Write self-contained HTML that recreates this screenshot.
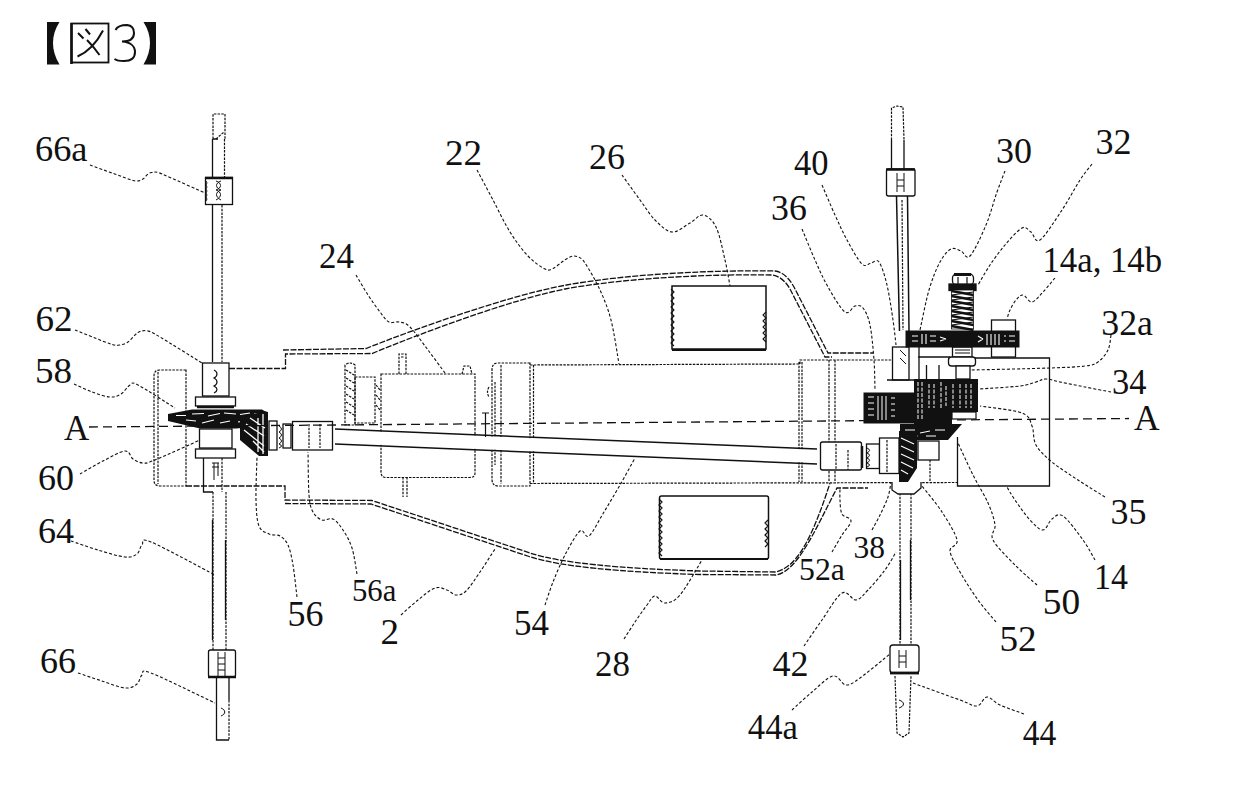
<!DOCTYPE html>
<html><head><meta charset="utf-8"><style>
html,body{margin:0;padding:0;background:#fff;}
body{width:1239px;height:804px;overflow:hidden;}
svg{display:block;}
text{font-family:"Liberation Serif",serif;fill:#111;}
.ld{fill:none;stroke:#111;stroke-width:1.1;stroke-dasharray:3 2;}
.l{fill:none;stroke:#111;stroke-width:1.3;}
.o{fill:none;stroke:#111;stroke-width:1.3;stroke-dasharray:6 1.5;}
.d{fill:none;stroke:#111;stroke-width:1.2;stroke-dasharray:2.5 1.2;}
.k{fill:#111;stroke:none;}
.w{fill:#fff;stroke:#111;stroke-width:1.2;}
</style></head><body>
<svg width="1239" height="804" viewBox="0 0 1239 804">
<!-- title -->
<g id="title">
<path class="k" d="M47,22 L59.5,22 C55,29 53,36 53,43 C53,50 55,57 59.5,64.5 L47,64.5 Z"/>
<rect x="71.5" y="23.5" width="37" height="39" fill="none" stroke="#111" stroke-width="1.8"/>
<path d="M71.5,23 L71.5,64" stroke="#111" stroke-width="2.6"/>
<path d="M78,33 L83.5,38.5 M85.5,29 L90,34.5 M103,30.5 C97,42 88,52 77.5,56.5 M87,40 C92,45 96,50 99.5,55" stroke="#111" stroke-width="2" fill="none"/>
<path d="M115.5,30 C117.5,26 122.5,25 127,25 C132,25.5 134,29 134,33 C134,38.5 130,41.5 122,41.5 C130,42 135,46 135,52 C135,58.5 130,61 124,61 C119,61 116,60 114.5,59" stroke="#111" stroke-width="2" fill="none"/>
<path class="k" d="M156,22 L143.5,22 C148,29 150,36 150,43 C150,50 148,57 143.5,64.5 L156,64.5 Z"/>
</g>

<!-- body outline (double) -->
<g class="o">
<path d="M283,350 L366,348.5 C420,327 510,295.5 564,285.5 C630,273.2 720,270 775,271 C784,272 790,280 794,287 L828,353 L873,353"/>
<path d="M229,368.5 L285.5,368.5 L285.5,354 L372,353.5 C424,332 512,299.5 565,289 C630,277 720,274 772,275 C780,276 786,282 790,289 L825,357 L832,357"/>
<path d="M186,486 L285,486 L285,500 L372,500.5 L530,553 C560,563 620,568.5 700,571 L775,572 C795,568 810,545 830,483"/>
<path d="M285,503.5 L371,504 L529,556.5 C559,566.5 619,572 700,574.5 L776,575 C798,571 815,530 837,488 L868,488"/>
</g>

<!-- left frame -->
<path class="d" d="M186,370 L160,370 Q154,370 154,376 L154,480 Q154,486 160,486 L186,486 Z M158,372 L158,484"/>

<!-- left axle -->
<g class="l">
<path class="d" d="M213,139 L213,114 L225,114 L225,139 M216,139 L224,132"/>
<path d="M212.5,139 L212.5,177 M213,139 L218,139" />
<path class="d" d="M224.5,139 L224.5,177"/>
<rect x="205.5" y="177.5" width="27" height="27" fill="#fff"/>
<path d="M206,181 Q208,183 206,185 Q208,187 206,189 Q208,191 206,193 Q208,195 206,197 Q208,199 206,201" stroke-width="1"/>
<path d="M216,181 C222,183 222,188 216,190 C222,192 222,197 216,200 M221,181 C215,183 215,188 221,190 C215,192 215,197 221,200" stroke-width="1"/>
<line x1="205" y1="178" x2="233" y2="178" stroke-width="2.5"/>
<path class="d" d="M222,205 L222,362"/>
<path d="M212.5,205 L212.5,362"/>
<rect x="202.5" y="363" width="26.5" height="33" fill="#fff"/>
<path d="M214,370 C218,372 218,376 214,378 C218,380 218,384 214,386 C218,388 218,391 214,393" stroke-width="1.2"/>
<rect x="195.5" y="397" width="40" height="9" fill="#fff"/>
<path d="M197,407 L234,407" stroke-width="2.5"/>
<rect x="199.5" y="429" width="32.5" height="19" fill="#fff"/>
<rect x="195.5" y="449" width="40" height="9" fill="#fff"/>
<path d="M203.5,458 L203.5,492 L213,492"/>
<path d="M212,463 L219,463 M212,467 L219,467 M214,463 L214,480 M218,463 L218,476" stroke-width="1"/>
<path class="d" d="M213,492 L213,650 M226,492 L226,650 M222,458 L222,492"/>
<path d="M212.5,520 L212.5,640 M225.5,540 L225.5,620"/>
<rect x="208.5" y="650" width="27" height="27" rx="2" fill="#fff"/>
<path d="M218,652 L218,676 M225,652 L225,676 M218,658 L225,658 M218,664 L225,664 M218,670 L225,670" stroke-width="1"/>
<line x1="208" y1="677" x2="236" y2="677" stroke-width="2.5"/>
<path d="M216.5,677 L216.5,740 L229,740 M229,677 L229,700"/>
<path class="d" d="M229,700 L229,740"/>
<path d="M221,708 C226,710 226,714 221,716" stroke-width="1"/>
</g>
<!-- gear 58 -->
<path class="k" d="M168,414 L192,409.5 L262,409.5 L266,412 L266,426 L236,428.5 L200,428.5 L168,421 Z"/>
<path d="M176,415.5 L186,415.5 M192,414 L204,413.5 M208,416 L220,413.5 M224,413 L236,414 M240,414.5 L250,413 M254,414 L262,413.5 M186,420 L196,421 M202,423 L214,420 M220,423 L230,421 M238,422 L250,420" stroke="#fff" stroke-width="1.2" fill="none"/>
<!-- pinion 56 -->
<path class="k" d="M240,418 L264,411 L268,412 L268,456 L259,456 L240,440 Z"/>
<path d="M246,424 L264,436 M244,430 L264,446 M250,418 L265,428 M253,441 L264,452 M258,418 L258,452 M263,414 L263,454" stroke="#fff" stroke-width="1.3" fill="none"/>
<!-- left coupling 56a -->
<g class="l">
<rect x="269" y="421" width="8" height="29" fill="#fff"/>
<path d="M279,426 Q284,429 279,432 Q284,435 279,438 Q284,441 279,444 Q284,446 279,448" stroke-width="1"/>
<rect x="283" y="424" width="8" height="24" fill="#fff"/>
<rect x="292.5" y="421.5" width="40" height="28.5" fill="#fff"/>
<path class="d" d="M309,424 L309,448 M320,424 L320,448"/>
</g>

<!-- motor 24 -->
<g class="d">
<path d="M381,374 L475,374 L475,473 Q475,477.5 470,477.5 L386,477.5 Q381,477.5 381,472 Z"/>
<path d="M399,374 L399,354 L406,354 L406,374 M401,357 L404,357 M462,374 L464,366 L470,366 L472,374 M403,477 L403,497 M407,477 L407,497"/>
<path d="M345,365 L345,425 L355,425 L355,365 Q350,361 345,365 Z"/>
<path d="M346,370 L354,375 M346,378 L354,383 M346,386 L354,391 M346,394 L354,399 M346,402 L354,407 M346,410 L354,415" />
<rect x="355" y="377" width="20" height="46"/>
<path d="M376,385 L380,390 M376,395 L380,400 M376,405 L380,410"/>
</g>

<!-- main motor 22 -->
<g class="d">
<path d="M530,363 L498,363 Q492,363 492,370 L492,479 Q492,486 498,486 L530,486 Z M501,365 L501,484 M495,382 L495,465 M489,387 Q486,392 489,397"/>
<path d="M530,365 L800,364 L800,360 L892,360 M530,483.5 L957,482.5 M533.5,365 L533.5,484 M799,362 L799,482 M802,362 L802,482 M829,360 L829,482 M835,360 L835,482"/>
</g>

<!-- boxes 26 / 28 -->
<rect class="l" x="672" y="286" width="94" height="63" fill="none" style="stroke-width:1.5"/>
<path class="l" d="M672,350 L766,350" style="stroke-width:2"/>
<path class="l" style="stroke-width:1.1" d="M671,289 L674,292 L671,295 L674,298 L671,301 L674,304 L671,307 L674,310 L671,313 L674,316 L671,319 L674,322 L671,325 L674,328 L671,331 L674,334 L671,337 L674,340 L671,343 L674,346 M766,312 L763,315 L766,318 L763,321 L766,324 L763,327 L766,330 L763,333 L766,336 L763,339 L766,342"/>
<rect class="l" x="659.5" y="496" width="109" height="63" rx="2" fill="none" style="stroke-width:1.5"/>
<path class="l" d="M660,559 L768,559" style="stroke-width:2"/>
<path class="l" style="stroke-width:1.2" d="M659,499 L662,502 L659,505 L662,508 L659,511 L662,514 L659,517 L662,520 L659,523 L662,526 L659,529 L662,532 L659,535 L662,538 L659,541 L662,544 L659,547 L662,550 L659,553 L662,556 M768,520 L765,523 L768,526 L765,529 L768,532 L765,535 L768,538 L765,541 L768,544 L765,547"/>

<!-- shaft 54 -->
<path d="M336,430 L817,450 L817,463 L336,443 Z" fill="#fff" stroke="none"/>
<path class="l" d="M335,429 L817,449 M335,444 L817,464" style="stroke-width:1.5"/>
<path class="l" d="M482,413 L489,413 M485.5,413 L485.5,437" style="stroke-width:1.2"/>

<!-- axis A -->
<path d="M89,427 L1129,418.5" stroke="#111" stroke-width="1.3" stroke-dasharray="9 5" fill="none"/>

<!-- coupling 52a -->
<g class="l">
<rect x="820.5" y="442" width="41" height="28" rx="2" fill="#fff"/>
<path class="d" d="M836,444 L836,470 M848,450 L848,470"/>
<path d="M862,446 L862,468" stroke-width="2.5"/>
<rect x="866.5" y="444" width="13" height="24.5" fill="#fff"/>
<path d="M867,448 Q872,450 867,453 Q872,455 867,458 Q872,460 867,463 Q872,465 867,467" stroke-width="1"/>
<rect x="879.5" y="438" width="19.5" height="35.5" fill="#fff"/>
<rect x="918" y="441" width="21" height="19" fill="#fff"/>
<path class="d" d="M887,440 L887,472 M930,460 L930,482"/>
</g>

<!-- right axle -->
<g class="l">
<path class="d" d="M891.5,140 L891.5,108 L897,106 L903,107 L904,140"/>
<path d="M891.5,140 L891.5,169 M904,140 L904,169"/>
<rect x="886.5" y="169" width="28.5" height="27" rx="2" fill="#fff"/>
<line x1="886" y1="169.5" x2="915" y2="169.5" stroke-width="2.5"/>
<path d="M897,173 L897,192 M904,173 L904,192 M897,180 L904,180 M897,186 L904,186" stroke-width="1"/>
<path d="M896.5,196 L899.5,331 M907.5,196 L909,331" style="stroke-width:1.5"/>
<path class="d" d="M902,200 L903,330"/>
<rect x="892.5" y="347" width="16.5" height="33" fill="#fff"/>
<path d="M900,350 L906,356 M900,358 L906,364" stroke-width="1"/>
<path d="M919,347 L919,380 M926.5,365 L926.5,380 M939,365 L939,380 M918,357 L950,357 M887,380 L914,380"/>
<path class="d" d="M900,482 L900,645 M911,482 L911,645"/>
<path d="M900.5,560 L900.5,640 M910.5,540 L910.5,600"/>
<path d="M892,482 L892,490 L898,494 L914,494 L921,488 L921,482" fill="#fff"/>
<rect x="890" y="645" width="29" height="28" rx="3" fill="#fff"/>
<path d="M899,650 L899,668 M906,650 L906,668 M899,656 L906,656 M899,662 L906,662" stroke-width="1"/>
<line x1="890" y1="673" x2="919" y2="673" stroke-width="2.8"/>
<path class="d" d="M895,676 L897,733 L903,737 L909,733 L911,676"/>
<path d="M899,700 C905,702 905,706 899,708" stroke-width="1"/>
</g>

<!-- right gear train -->
<g class="l">
<rect x="952.5" y="274" width="21" height="11" rx="4" fill="#fff"/>
<path d="M954,274.5 L971,274.5" stroke-width="3"/>
<path d="M958,277 L958,284 M967,277 L967,284" stroke-width="1.2"/>
<rect x="949" y="284" width="27" height="6.5" fill="#111"/>
<rect x="951.5" y="290" width="22" height="39" fill="#fff" stroke-width="0.8"/>
<path d="M951.5,291.0 L973.5,295.0 M951.5,296.0 L973.5,300.0 M951.5,301.0 L973.5,305.0 M951.5,306.0 L973.5,310.0 M951.5,311.0 L973.5,315.0 M951.5,316.0 L973.5,320.0 M951.5,321.0 L973.5,325.0 M951.5,326.0 L973.5,330.0 " stroke-width="2.6"/>
<path d="M951.5,295.0 L973.5,292.0 M951.5,300.0 L973.5,297.0 M951.5,305.0 L973.5,302.0 M951.5,310.0 L973.5,307.0 M951.5,315.0 L973.5,312.0 M951.5,320.0 L973.5,317.0 M951.5,325.0 L973.5,322.0 " stroke-width="1.2"/>
<rect x="991.5" y="320" width="24" height="37" fill="#fff"/>
<rect x="952.5" y="347" width="19.5" height="10" fill="#fff"/>
<path d="M955,350 L970,350 M955,353 L970,353" stroke-width="1"/>
<rect x="948.5" y="357" width="27" height="9" rx="3" fill="#fff"/>
<rect x="956" y="366" width="14" height="13" fill="#fff"/>
<path d="M975,358 L1049.5,358 L1049.5,486 L957.5,486 L957.5,437"/>
</g>
<!-- gear 30 -->
<rect class="k" x="905.5" y="330.5" width="114" height="17"/>
<path d="M912,336 L918,336 M912,341 L918,341 M922,334 L922,344 M926,334 L926,344 M930,336 L936,336 M930,341 L936,341 M940,337 L946,339 M940,341 L946,339 M978,336 L983,339 M978,342 L983,339 M987,334 L987,345 M991,334 L991,345 M995,334 L995,345 M999,334 L999,345 M1004,336 L1006,336 M1004,341 L1006,341 M1009,336 L1015,336 M1009,341 L1015,341" stroke="#fff" stroke-width="1.1" fill="none"/>
<!-- gear stack 34 -->
<rect class="k" x="914" y="379" width="64" height="33"/>
<rect class="k" x="914" y="412" width="38" height="13"/>
<rect class="w" x="952" y="412" width="24" height="7"/>
<path d="M918,382 L918,420 M922,382 L922,420 M929,384 L929,408 M934,384 L934,408 M941,382 L941,408 M946,386 L946,406 M953,384 L953,408 M960,384 L960,408 M966,384 L966,408 M971,384 L971,408" stroke="#fff" stroke-width="1" fill="none" stroke-dasharray="4 1.5"/>
<!-- gear 36 -->
<rect class="k" x="863.5" y="392.5" width="51" height="31"/>
<path d="M868,397 L874,397 M868,403 L874,403 M868,409 L874,409 M868,415 L874,415 M878,396 L878,420 M882,396 L882,420 M886,396 L886,420 M891,398 L895,398 M891,404 L895,404 M891,410 L895,410 M891,416 L895,416" stroke="#fff" stroke-width="1" fill="none"/>
<!-- bevel 50 -->
<path class="k" d="M900,424 L962,424 L948,440 L900,440 Z"/>
<path d="M905,430 L915,430 M920,433 L930,431 M935,430 L945,430 M910,436 L918,436 M926,436 L936,436" stroke="#fff" stroke-width="1" fill="none"/>
<!-- worm 38 -->
<path class="k" d="M899,431 L917.5,431 L917,468 L908,482 L899,482 Z"/>
<path d="M901,438 L914,444 M901,446 L914,452 M901,454 L914,460 M901,462 L913,468 M901,470 L908,474" stroke="#fff" stroke-width="1.2" fill="none"/>

<path class="ld" d="M90.0,165.0 C93.7,166.3 105.3,170.6 112.0,173.0 C118.7,175.4 125.8,178.2 130.0,179.5 C134.2,180.8 134.8,181.1 137.0,181.0 C139.2,180.9 141.2,180.2 143.0,179.0 C144.8,177.8 146.5,175.1 148.0,174.0 C149.5,172.9 150.3,172.8 152.0,172.5 C153.7,172.2 155.0,171.7 158.0,172.5 C161.0,173.3 162.3,174.2 170.0,177.5 C177.7,180.8 198.3,190.0 204.0,192.5"/>
<path class="ld" d="M75.0,330.0 C78.3,331.3 88.8,335.6 95.0,338.0 C101.2,340.4 107.8,343.3 112.0,344.5 C116.2,345.7 117.3,345.4 120.0,345.0 C122.7,344.6 125.5,343.7 128.0,342.0 C130.5,340.3 133.0,336.8 135.0,335.0 C137.0,333.2 137.8,332.2 140.0,331.5 C142.2,330.8 144.7,330.1 148.0,331.0 C151.3,331.9 151.0,331.7 160.0,337.0 C169.0,342.3 195.0,358.7 202.0,363.0"/>
<path class="ld" d="M74.0,384.0 C77.0,385.3 86.0,389.8 92.0,392.0 C98.0,394.2 105.2,396.7 110.0,397.0 C114.8,397.3 117.7,396.0 121.0,394.0 C124.3,392.0 127.2,386.5 130.0,385.0 C132.8,383.5 130.5,381.2 138.0,385.0 C145.5,388.8 168.8,404.2 175.0,408.0"/>
<path class="ld" d="M80.0,474.0 C83.8,471.8 95.5,464.8 103.0,461.0 C110.5,457.2 120.0,451.3 125.0,451.0 C130.0,450.7 130.0,457.0 133.0,459.0 C136.0,461.0 139.3,462.8 143.0,463.0 C146.7,463.2 145.5,463.8 155.0,460.0 C164.5,456.2 192.5,443.3 200.0,440.0"/>
<path class="ld" d="M71.0,541.0 C75.5,542.5 89.0,547.3 98.0,550.0 C107.0,552.7 118.5,556.3 125.0,557.0 C131.5,557.7 134.2,556.0 137.0,554.0 C139.8,552.0 139.7,547.0 142.0,545.0 C144.3,543.0 138.8,537.0 151.0,542.0 C163.2,547.0 204.3,569.5 215.0,575.0"/>
<path class="ld" d="M78.0,673.0 C82.0,674.3 94.2,678.5 102.0,681.0 C109.8,683.5 119.2,687.5 125.0,688.0 C130.8,688.5 134.2,686.2 137.0,684.0 C139.8,681.8 139.7,676.8 142.0,675.0 C144.3,673.2 138.8,668.3 151.0,673.0 C163.2,677.7 204.3,698.0 215.0,703.0"/>
<path class="ld" d="M297.0,597.0 C296.3,591.7 294.5,573.7 293.0,565.0 C291.5,556.3 290.2,549.8 288.0,545.0 C285.8,540.2 283.2,537.8 280.0,536.0 C276.8,534.2 272.5,535.7 269.0,534.0 C265.5,532.3 261.2,531.7 259.0,526.0 C256.8,520.3 256.3,511.5 256.0,500.0 C255.7,488.5 256.8,464.2 257.0,457.0"/>
<path class="ld" d="M357.0,574.0 C356.2,569.7 354.3,555.3 352.0,548.0 C349.7,540.7 346.2,534.8 343.0,530.0 C339.8,525.2 336.5,520.7 333.0,519.0 C329.5,517.3 325.3,521.2 322.0,520.0 C318.7,518.8 315.2,516.2 313.0,512.0 C310.8,507.8 309.8,505.0 309.0,495.0 C308.2,485.0 308.2,459.2 308.0,452.0"/>
<path class="ld" d="M401.0,615.0 C403.8,612.5 412.3,604.5 418.0,600.0 C423.7,595.5 430.2,589.7 435.0,588.0 C439.8,586.3 443.5,588.8 447.0,590.0 C450.5,591.2 452.8,594.8 456.0,595.0 C459.2,595.2 462.0,594.8 466.0,591.0 C470.0,587.2 475.2,579.0 480.0,572.0 C484.8,565.0 492.5,552.8 495.0,549.0"/>
<path class="ld" d="M545.0,605.0 C546.3,601.2 549.7,590.3 553.0,582.0 C556.3,573.7 560.5,563.5 565.0,555.0 C569.5,546.5 576.0,534.2 580.0,531.0 C584.0,527.8 585.0,539.2 589.0,536.0 C593.0,532.8 598.8,520.5 604.0,512.0 C609.2,503.5 614.8,494.0 620.0,485.0 C625.2,476.0 632.5,462.5 635.0,458.0"/>
<path class="ld" d="M356.0,275.0 C358.0,278.3 364.0,288.8 368.0,295.0 C372.0,301.2 376.5,307.5 380.0,312.0 C383.5,316.5 385.8,320.3 389.0,322.0 C392.2,323.7 395.5,321.2 399.0,322.0 C402.5,322.8 405.2,322.3 410.0,327.0 C414.8,331.7 422.2,342.3 428.0,350.0 C433.8,357.7 442.2,369.2 445.0,373.0"/>
<path class="ld" d="M477.0,170.0 C479.7,175.0 487.5,189.7 493.0,200.0 C498.5,210.3 504.2,222.7 510.0,232.0 C515.8,241.3 522.2,249.8 528.0,256.0 C533.8,262.2 540.8,266.9 545.0,269.0 C549.2,271.1 550.2,269.7 553.0,268.5 C555.8,267.3 559.2,263.9 562.0,262.0 C564.8,260.1 567.5,257.9 570.0,257.0 C572.5,256.1 574.5,255.5 577.0,256.5 C579.5,257.5 581.2,257.4 585.0,263.0 C588.8,268.6 595.7,280.5 600.0,290.0 C604.3,299.5 607.8,307.7 611.0,320.0 C614.2,332.3 617.7,356.7 619.0,364.0"/>
<path class="ld" d="M622.0,175.0 C625.0,179.2 634.5,192.5 640.0,200.0 C645.5,207.5 649.7,214.7 655.0,220.0 C660.3,225.3 666.2,231.5 672.0,232.0 C677.8,232.5 684.8,225.8 690.0,223.0 C695.2,220.2 698.7,214.3 703.0,215.0 C707.3,215.7 712.3,219.5 716.0,227.0 C719.7,234.5 722.7,250.2 725.0,260.0 C727.3,269.8 729.2,281.7 730.0,286.0"/>
<path class="ld" d="M624.0,639.0 C625.8,636.2 631.2,627.7 635.0,622.0 C638.8,616.3 643.7,609.3 647.0,605.0 C650.3,600.7 652.0,596.3 655.0,596.0 C658.0,595.7 660.8,603.2 665.0,603.0 C669.2,602.8 673.8,602.2 680.0,595.0 C686.2,587.8 698.3,565.8 702.0,560.0"/>
<path class="ld" d="M822.0,185.0 C824.2,190.0 830.8,205.8 835.0,215.0 C839.2,224.2 842.5,231.8 847.0,240.0 C851.5,248.2 858.0,260.2 862.0,264.0 C866.0,267.8 868.2,263.3 871.0,263.0 C873.8,262.7 876.3,258.3 879.0,262.0 C881.7,265.7 884.7,275.3 887.0,285.0 C889.3,294.7 891.5,310.0 893.0,320.0 C894.5,330.0 895.5,340.8 896.0,345.0"/>
<path class="ld" d="M802.0,229.0 C804.2,234.2 810.7,250.3 815.0,260.0 C819.3,269.7 823.0,278.3 828.0,287.0 C833.0,295.7 840.5,308.8 845.0,312.0 C849.5,315.2 852.0,306.7 855.0,306.0 C858.0,305.3 860.5,304.8 863.0,308.0 C865.5,311.2 868.2,316.3 870.0,325.0 C871.8,333.7 873.2,349.2 874.0,360.0 C874.8,370.8 874.8,385.0 875.0,390.0"/>
<path class="ld" d="M1005.0,171.0 C1003.7,174.5 1000.2,183.0 997.0,192.0 C993.8,201.0 990.5,214.3 986.0,225.0 C981.5,235.7 974.2,251.7 970.0,256.0 C965.8,260.3 964.2,252.2 961.0,251.0 C957.8,249.8 954.5,247.2 951.0,249.0 C947.5,250.8 943.7,255.2 940.0,262.0 C936.3,268.8 932.3,278.7 929.0,290.0 C925.7,301.3 921.5,323.3 920.0,330.0"/>
<path class="ld" d="M1092.0,164.0 C1090.0,166.7 1085.0,172.3 1080.0,180.0 C1075.0,187.7 1068.7,200.0 1062.0,210.0 C1055.3,220.0 1045.2,236.3 1040.0,240.0 C1034.8,243.7 1034.0,234.0 1031.0,232.0 C1028.0,230.0 1026.3,225.8 1022.0,228.0 C1017.7,230.2 1010.3,238.8 1005.0,245.0 C999.7,251.2 994.5,258.3 990.0,265.0 C985.5,271.7 980.0,281.7 978.0,285.0"/>
<path class="ld" d="M1055.0,278.0 C1053.0,280.3 1046.8,288.0 1043.0,292.0 C1039.2,296.0 1035.3,301.5 1032.0,302.0 C1028.7,302.5 1025.7,295.3 1023.0,295.0 C1020.3,294.7 1018.2,297.5 1016.0,300.0 C1013.8,302.5 1011.5,306.8 1010.0,310.0 C1008.5,313.2 1007.5,317.5 1007.0,319.0"/>
<path class="ld" d="M1111.0,335.0 C1110.5,337.5 1110.2,345.5 1108.0,350.0 C1105.8,354.5 1101.8,359.3 1098.0,362.0 C1094.2,364.7 1093.0,365.0 1085.0,366.0 C1077.0,367.0 1069.0,367.3 1050.0,368.0 C1031.0,368.7 984.2,369.7 971.0,370.0"/>
<path class="ld" d="M1111.0,392.0 C1106.7,391.2 1093.5,388.7 1085.0,387.0 C1076.5,385.3 1066.5,383.3 1060.0,382.0 C1053.5,380.7 1050.0,379.0 1046.0,379.0 C1042.0,379.0 1040.3,380.8 1036.0,382.0 C1031.7,383.2 1029.5,384.8 1020.0,386.0 C1010.5,387.2 985.8,388.5 979.0,389.0"/>
<path class="ld" d="M1105.0,497.0 C1100.5,494.2 1086.8,485.8 1078.0,480.0 C1069.2,474.2 1059.0,467.8 1052.0,462.0 C1045.0,456.2 1039.3,451.0 1036.0,445.0 C1032.7,439.0 1034.3,431.3 1032.0,426.0 C1029.7,420.7 1030.7,416.3 1022.0,413.0 C1013.3,409.7 987.0,407.2 980.0,406.0"/>
<path class="ld" d="M1095.0,560.0 C1093.0,556.7 1088.3,547.3 1083.0,540.0 C1077.7,532.7 1068.2,519.5 1063.0,516.0 C1057.8,512.5 1055.3,516.7 1052.0,519.0 C1048.7,521.3 1046.7,529.8 1043.0,530.0 C1039.3,530.2 1034.7,525.0 1030.0,520.0 C1025.3,515.0 1018.8,505.5 1015.0,500.0 C1011.2,494.5 1008.3,489.2 1007.0,487.0"/>
<path class="ld" d="M1037.0,585.0 C1033.3,581.7 1022.3,572.5 1015.0,565.0 C1007.7,557.5 996.3,546.7 993.0,540.0 C989.7,533.3 995.8,531.2 995.0,525.0 C994.2,518.8 991.7,511.3 988.0,503.0 C984.3,494.7 978.0,485.0 973.0,475.0 C968.0,465.0 960.5,448.3 958.0,443.0"/>
<path class="ld" d="M996.0,622.0 C993.0,618.3 984.0,608.3 978.0,600.0 C972.0,591.7 964.7,580.2 960.0,572.0 C955.3,563.8 950.5,556.3 950.0,551.0 C949.5,545.7 958.3,546.5 957.0,540.0 C955.7,533.5 947.8,521.0 942.0,512.0 C936.2,503.0 925.3,490.3 922.0,486.0"/>
<path class="ld" d="M872.0,530.0 C873.3,527.5 877.3,520.5 880.0,515.0 C882.7,509.5 886.2,502.5 888.0,497.0 C889.8,491.5 890.5,484.5 891.0,482.0"/>
<path class="ld" d="M832.0,552.0 C833.7,549.2 838.8,540.2 842.0,535.0 C845.2,529.8 851.0,524.5 851.0,521.0 C851.0,517.5 843.8,517.5 842.0,514.0 C840.2,510.5 840.3,504.5 840.0,500.0 C839.7,495.5 840.0,489.2 840.0,487.0"/>
<path class="ld" d="M804.0,646.0 C807.0,641.7 815.7,628.8 822.0,620.0 C828.3,611.2 836.3,596.3 842.0,593.0 C847.7,589.7 851.7,600.5 856.0,600.0 C860.3,599.5 863.2,595.0 868.0,590.0 C872.8,585.0 880.3,576.3 885.0,570.0 C889.7,563.7 894.2,555.0 896.0,552.0"/>
<path class="ld" d="M792.0,710.0 C795.3,707.0 805.2,697.7 812.0,692.0 C818.8,686.3 827.3,677.2 833.0,676.0 C838.7,674.8 841.5,684.7 846.0,685.0 C850.5,685.3 852.7,683.2 860.0,678.0 C867.3,672.8 885.0,658.0 890.0,654.0"/>
<path class="ld" d="M1024.0,714.0 C1020.0,712.5 1006.2,707.8 1000.0,705.0 C993.8,702.2 990.8,696.8 987.0,697.0 C983.2,697.2 981.5,705.5 977.0,706.0 C972.5,706.5 970.7,703.8 960.0,700.0 C949.3,696.2 920.8,685.8 913.0,683.0"/>
<text transform="translate(35.0,161.0) scale(1.010,1)" font-size="36">66a</text>
<text transform="translate(35.5,331.0) scale(1.030,1)" font-size="36">62</text>
<text transform="translate(35.0,383.0) scale(1.030,1)" font-size="36">58</text>
<text transform="translate(64.0,440.0) scale(0.970,1)" font-size="36">A</text>
<text transform="translate(38.0,490.0) scale(1.000,1)" font-size="36">60</text>
<text transform="translate(38.0,542.5) scale(1.001,1)" font-size="36">64</text>
<text transform="translate(40.0,673.0) scale(1.000,1)" font-size="36">66</text>
<text transform="translate(287.5,626.0) scale(1.000,1)" font-size="36">56</text>
<text transform="translate(352.0,601.0) scale(0.960,1)" font-size="32">56a</text>
<text transform="translate(380.5,644.0) scale(1.030,1)" font-size="36">2</text>
<text transform="translate(514.0,635.0) scale(0.971,1)" font-size="36">54</text>
<text transform="translate(319.0,268.0) scale(0.971,1)" font-size="36">24</text>
<text transform="translate(445.0,164.5) scale(1.030,1)" font-size="36">22</text>
<text transform="translate(589.0,169.0) scale(1.000,1)" font-size="36">26</text>
<text transform="translate(595.0,676.0) scale(0.969,1)" font-size="36">28</text>
<text transform="translate(793.9,174.7) scale(0.959,1)" font-size="36">40</text>
<text transform="translate(771.0,220.0) scale(0.994,1)" font-size="36">36</text>
<text transform="translate(996.0,162.5) scale(1.000,1)" font-size="36">30</text>
<text transform="translate(1095.5,154.0) scale(1.000,1)" font-size="36">32</text>
<text transform="translate(1042.5,271.5) scale(0.965,1)" font-size="36">14a, 14b</text>
<text transform="translate(1101.3,334.8) scale(0.994,1)" font-size="36">32a</text>
<text transform="translate(1112.1,394.0) scale(0.958,1)" font-size="36">34</text>
<text transform="translate(1134.0,430.0) scale(0.986,1)" font-size="36">A</text>
<text transform="translate(1110.5,524.0) scale(1.000,1)" font-size="36">35</text>
<text transform="translate(1094.0,589.0) scale(0.942,1)" font-size="36">14</text>
<text transform="translate(1042.7,614.0) scale(1.038,1)" font-size="36">50</text>
<text transform="translate(999.5,651.0) scale(1.031,1)" font-size="36">52</text>
<text transform="translate(799.0,580.0) scale(0.993,1)" font-size="32">52a</text>
<text transform="translate(853.5,557.5) scale(0.984,1)" font-size="32">38</text>
<text transform="translate(772.5,676.3) scale(1.001,1)" font-size="36">42</text>
<text transform="translate(747.8,738.7) scale(0.964,1)" font-size="36">44a</text>
<text transform="translate(1022.8,744.7) scale(0.933,1)" font-size="36">44</text>
</svg>
</body></html>
